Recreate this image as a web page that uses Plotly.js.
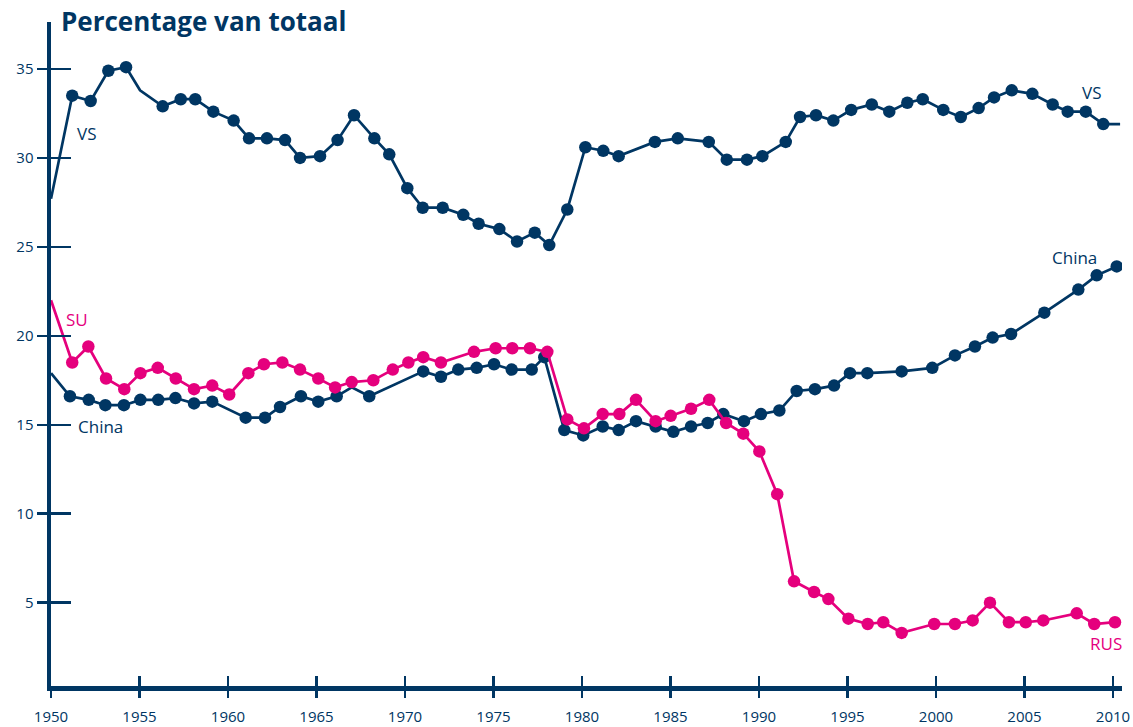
<!DOCTYPE html>
<html>
<head>
<meta charset="utf-8">
<script src="https://cdn.plot.ly/plotly-3.0.1.min.js"></script>
<style>html,body{margin:0;padding:0;background:#fff;}#chart{width:1133px;height:727px;}</style>
</head>
<body>
<div id="chart"></div>
<script>
// VS (United States)
const vsYears = [1950.00,1951.20,1952.24,1953.24,1954.24,1955.03,1956.31,1957.33,1958.15,1959.17,1960.32,1961.19,1962.20,1963.22,1964.07,1965.20,1966.19,1967.12,1968.27,1969.11,1970.13,1971.00,1972.13,1973.29,1974.16,1975.33,1976.33,1977.33,1978.15,1979.17,1980.19,1981.20,1982.07,1984.12,1985.41,1987.16,1988.18,1989.32,1990.19,1991.51,1992.32,1993.22,1994.20,1995.21,1996.37,1997.36,1998.38,1999.25,2000.41,2001.40,2002.41,2003.28,2004.28,2005.44,2006.59,2007.44,2008.46,2009.45,2010.40];
const vsValues = [27.7,33.5,33.2,34.9,35.1,33.8,32.9,33.3,33.3,32.6,32.1,31.1,31.1,31.0,30.0,30.1,31.0,32.4,31.1,30.2,28.3,27.2,27.2,26.8,26.3,26.0,25.3,25.8,25.1,27.1,30.6,30.4,30.1,30.9,31.1,30.9,29.9,29.9,30.1,30.9,32.3,32.4,32.1,32.7,33.0,32.6,33.1,33.3,32.7,32.3,32.8,33.4,33.8,33.6,33.0,32.6,32.6,31.9,31.9];
const vsUnmarked = [1950.00,1955.03,2010.40];

// China
const chinaYears = [1950.00,1951.07,1952.13,1953.07,1954.12,1955.05,1956.06,1957.03,1958.08,1959.11,1961.00,1962.09,1962.94,1964.12,1965.10,1966.14,1966.99,1967.98,1971.03,1972.03,1973.01,1974.05,1975.03,1976.03,1977.16,1977.87,1979.00,1980.07,1981.17,1982.07,1983.05,1984.16,1985.16,1986.16,1987.10,1987.98,1989.15,1990.11,1991.15,1992.13,1993.16,1994.24,1995.14,1996.12,1998.06,1999.79,2001.07,2002.20,2003.20,2004.24,2006.12,2008.04,2009.08,2010.21];
const chinaValues = [17.9,16.6,16.4,16.1,16.1,16.4,16.4,16.5,16.2,16.3,15.4,15.4,16.0,16.6,16.3,16.6,17.1,16.6,18.0,17.7,18.1,18.2,18.4,18.1,18.1,18.8,14.7,14.4,14.9,14.7,15.2,14.9,14.6,14.9,15.1,15.6,15.2,15.6,15.8,16.9,17.0,17.2,17.9,17.9,18.0,18.2,18.9,19.4,19.9,20.1,21.3,22.6,23.4,23.9];
const chinaUnmarked = [1950.00,1966.99];

// SU / RUS
const suYears = [1950.00,1951.20,1952.11,1953.11,1954.14,1955.05,1956.03,1957.05,1958.08,1959.11,1960.07,1961.15,1962.03,1963.07,1964.07,1965.10,1966.05,1966.99,1968.21,1969.31,1970.19,1971.03,1972.03,1973.90,1975.12,1976.06,1977.06,1978.04,1979.17,1980.11,1981.17,1982.11,1983.05,1984.16,1985.01,1986.16,1987.19,1988.14,1989.11,1990.02,1991.03,1991.98,1993.11,1993.92,1995.05,1996.14,1997.02,1998.06,1999.90,2001.07,2002.07,2003.05,2004.12,2005.07,2006.06,2007.95,2008.94,2010.11];
const suValues = [22.0,18.5,19.4,17.6,17.0,17.9,18.2,17.6,17.0,17.2,16.7,17.9,18.4,18.5,18.1,17.6,17.1,17.4,17.5,18.1,18.5,18.8,18.5,19.1,19.3,19.3,19.3,19.1,15.3,14.8,15.6,15.6,16.4,15.2,15.5,15.9,16.4,15.1,14.5,13.5,11.1,6.2,5.6,5.2,4.1,3.8,3.9,3.3,3.8,3.8,4.0,5.0,3.9,3.9,4.0,4.4,3.8,3.9];
const suUnmarked = [1950.00];

const xTicks = [1950,1955,1960,1965,1970,1975,1980,1985,1990,1995,2000,2005,2010];
const yTicks = [5,10,15,20,25,30,35];

const NAVY = '#003663';
const PINK = '#E5007D';
const FONT = 'Open Sans, Noto Sans, sans-serif';
const MSIZE = 12.5;

function sizes(years, unmarked) {
  const s = new Set(unmarked);
  return years.map(y => s.has(y) ? 0 : MSIZE);
}

function series(years, values, unmarked, color) {
  return {
    x: years, y: values, type: 'scatter', mode: 'lines+markers',
    line: {color: color, width: 2.7},
    marker: {color: color, opacity: 1, size: sizes(years, unmarked), line: {width: 0}},
    cliponaxis: true, showlegend: false, hoverinfo: 'x+y'
  };
}

const traces = [
  series(vsYears, vsValues, vsUnmarked, NAVY),
  series(chinaYears, chinaValues, chinaUnmarked, NAVY),
  series(suYears, suValues, suUnmarked, PINK),
  {x: [], y: [], xaxis: 'x2', yaxis: 'y2', type: 'scatter', mode: 'markers', showlegend: false}
];

const XR = [1950, 2010.508];
const YR = [0.315, 37.64];

function label(text, x, y, color) {
  return {text: text, x: x, y: y, xref: 'x', yref: 'y', showarrow: false,
          xanchor: 'center', yanchor: 'middle',
          font: {family: FONT, size: 17, color: color}};
}

const layout = {
  width: 1133, height: 727,
  margin: {l: 51, r: 11, t: 22, b: 41, pad: 0},
  paper_bgcolor: '#fff', plot_bgcolor: '#fff',
  font: {family: FONT, color: NAVY},
  title: {
    text: '<b>Percentage van totaal</b>',
    font: {family: FONT, size: 26, color: NAVY},
    x: 61 / 1133, xanchor: 'left', xref: 'container',
    y: 1 - 22 / 727, yanchor: 'middle', yref: 'container'
  },
  xaxis: {
    range: XR, tickvals: xTicks, ticktext: xTicks.map(String),
    showgrid: false, zeroline: false,
    showline: true, linecolor: NAVY, linewidth: 4.5,
    ticks: 'outside', ticklen: 7, tickwidth: 2.5, tickcolor: NAVY,
    ticklabelstandoff: 6,
    tickfont: {family: FONT, size: 15, color: NAVY}, fixedrange: true
  },
  yaxis: {
    range: YR, tickvals: yTicks, ticktext: yTicks.map(String),
    showgrid: false, zeroline: false,
    showline: true, linecolor: NAVY, linewidth: 4.5,
    ticks: 'outside', ticklen: 10, tickwidth: 2.5, tickcolor: NAVY,
    tickfont: {family: FONT, size: 15, color: NAVY}, fixedrange: true
  },
  xaxis2: {
    overlaying: 'x', matches: 'x', anchor: 'y2', side: 'bottom', range: XR,
    tickvals: xTicks, showticklabels: false, showgrid: false, zeroline: false, showline: false,
    ticks: 'inside', ticklen: 10, tickwidth: 2.5, tickcolor: NAVY
  },
  yaxis2: {
    overlaying: 'y', matches: 'y', anchor: 'x2', side: 'left', range: YR,
    tickvals: yTicks, showticklabels: false, showgrid: false, zeroline: false, showline: false,
    ticks: 'inside', ticklen: 20, tickwidth: 2.5, tickcolor: NAVY
  },
  annotations: [
    label('VS', 1952.03, 31.4, NAVY),
    label('VS', 2008.76, 33.7, NAVY),
    label('SU', 1951.47, 20.9, PINK),
    label('China', 1952.77, 14.9, NAVY),
    label('China', 2007.85, 24.4, NAVY),
    label('RUS', 2009.6, 2.7, PINK)
  ]
};

Plotly.newPlot('chart', traces, layout, {displayModeBar: false, staticPlot: true});
</script>
</body>
</html>
